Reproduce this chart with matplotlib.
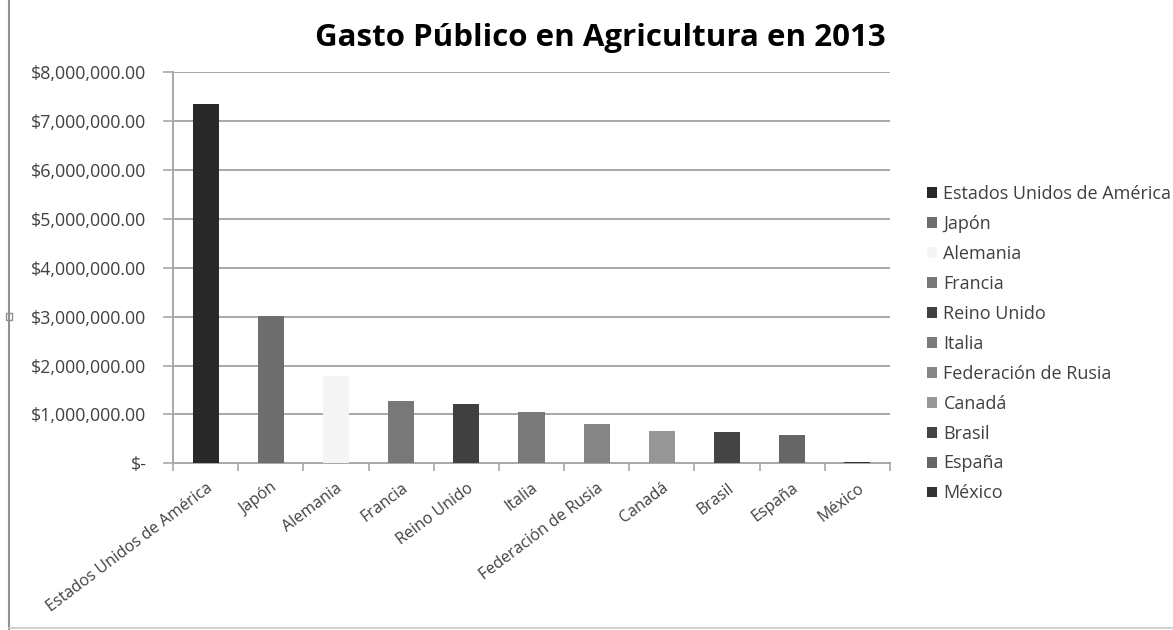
import matplotlib
matplotlib.use("Agg")
import matplotlib.pyplot as plt
from matplotlib.patches import Rectangle
from matplotlib.lines import Line2D
from matplotlib.ticker import FuncFormatter, MultipleLocator

categories = ["Estados Unidos de América", "Japón", "Alemania", "Francia", "Reino Unido",
              "Italia", "Federación de Rusia", "Canadá", "Brasil", "España", "México"]
values = [7350000, 3010000, 1790000, 1280000, 1210000, 1040000, 800000, 670000, 650000, 580000, 30000]
colors = ["#282828", "#6e6e6e", "#f5f5f5", "#787878", "#404040", "#7a7a7a",
          "#858585", "#969696", "#444444", "#666666", "#333333"]
title = "Gasto Público en Agricultura en 2013"

plt.rcParams['font.family'] = ['Open Sans', 'DejaVu Sans']

W, H = 1173, 630
fig = plt.figure(figsize=(W / 100, H / 100), dpi=100)
ax = fig.add_axes([173 / W, (H - 463.3) / H, (890 - 173) / W, (463.3 - 72.3) / H])

x = range(len(categories))
ax.bar(x, values, width=0.4, color=colors, zorder=3)

ax.set_xlim(-0.5, len(categories) - 0.5)
ax.set_ylim(0, 8000000)
ax.yaxis.set_major_locator(MultipleLocator(1000000))

def fmt(v, pos):
    if v == 0:
        return "$-"
    return "${:,.2f}".format(v)

ax.yaxis.set_major_formatter(FuncFormatter(fmt))
ax.grid(axis='y', color='#a8a8a8', linewidth=1.4, zorder=0)
ax.set_axisbelow(True)

for s in ['top', 'right']:
    ax.spines[s].set_visible(False)
for s in ['left', 'bottom']:
    ax.spines[s].set_color('#a8a8a8')
    ax.spines[s].set_linewidth(1.4)

ax.tick_params(axis='y', length=7, width=1.2, color='#a8a8a8', labelsize=12.8,
               labelcolor='#404040', pad=12)
ax.set_xticks([i - 0.5 for i in range(len(categories) + 1)], minor=False)
ax.set_xticklabels([])
ax.tick_params(axis='x', which='major', length=6, width=1.2, color='#a8a8a8')
ax.set_xticks(list(x), minor=True)
ax.set_xticklabels(categories, minor=True, rotation=37, ha='right',
                   rotation_mode='anchor', fontsize=11.5, color='#404040')
ax.tick_params(axis='x', which='minor', length=0, pad=12)

fig.text(600 / W, 1 - 38 / H, title, ha='center', va='center', fontsize=22.5,
         fontweight='bold', color='#000000')

handles = [Rectangle((0, 0), 1, 1, facecolor=c, edgecolor='none') for c in colors]
leg = fig.legend(handles, categories, loc='upper left',
                 bbox_to_anchor=(920 / W, 1 - 178 / H), frameon=False,
                 fontsize=13, handlelength=0.55, handleheight=0.55,
                 handletextpad=0.35, labelspacing=0.66, borderaxespad=0)
for t in leg.get_texts():
    t.set_color('#404040')

fig.add_artist(Line2D([9 / W, 9 / W], [0, 1], color='#909090', linewidth=1.5))
fig.add_artist(Line2D([9 / W, 1], [1 - 628 / H, 1 - 628 / H], color='#c8c8c8', linewidth=1.2))
fig.add_artist(Rectangle((6 / W, 1 - 320 / H), 6 / W, 7 / H, facecolor='white',
                         edgecolor='#909090', linewidth=1, transform=fig.transFigure))

fig.savefig("out.png", dpi=100)
